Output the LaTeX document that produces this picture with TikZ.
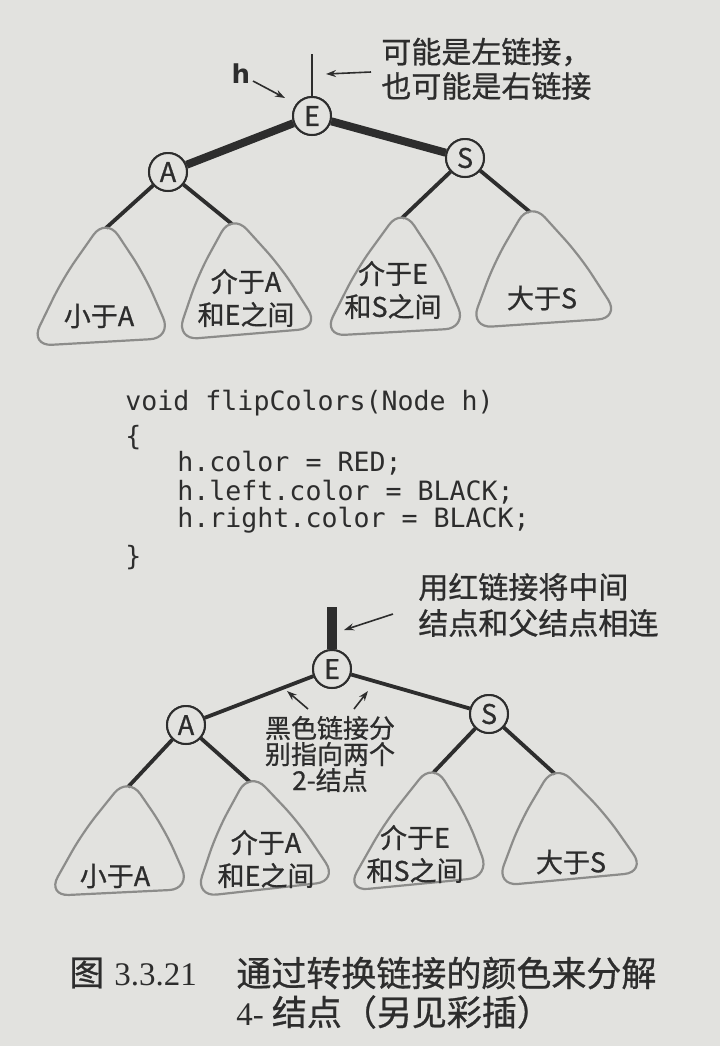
\documentclass[tikz,border=0pt]{standalone}
\usepackage{fontspec}
\usetikzlibrary{arrows.meta,calc}
\newfontfamily\cjk{Noto Sans CJK SC}[FakeBold=0.8]
\newfontfamily\codefont{DejaVu Sans Mono}
\newfontfamily\hfont{DejaVu Sans}
\newfontfamily\serifcap{Liberation Serif}
\definecolor{paper}{RGB}{226,226,223}
\definecolor{ink}{RGB}{45,45,45}
\definecolor{blobgray}{RGB}{140,140,138}
\newcommand\blobshape[3]{\draw[blobline] ($(#2)!0.5!(#3)$) -- (#3)
  -- ($(#1)!0.5!(#3)!3pt!90:(#3)$) -- (#1)
  -- ($(#1)!0.5!(#2)!3pt!-90:(#2)$) -- (#2) -- cycle;}
\begin{document}
\begin{tikzpicture}[x=0.5pt,y=-0.5pt,
  tnode/.style={circle,draw=ink,line width=1pt,fill=paper,minimum size=19pt,inner sep=0pt,font=\cjk\fontsize{13.5}{14}\selectfont,text=ink},
  link/.style={draw=ink,line width=1.9pt},
  redlink/.style={draw=ink,line width=4pt},
  blobline/.style={draw=blobgray,line width=1.1pt,rounded corners=11pt},
  lbl/.style={font=\cjk\fontsize{13.5}{16.5}\selectfont,text=ink,align=center,inner sep=0pt},
  note/.style={font=\cjk\fontsize{15}{17}\selectfont,text=ink,anchor=west,inner sep=0pt},
  ptr/.style={draw=ink,line width=0.8pt,-{Stealth[length=5pt,width=3.5pt]}},
  code/.style={font=\codefont\fontsize{13.3}{16}\selectfont,text=ink,anchor=west,inner sep=0pt}
]
\fill[paper] (0,0) rectangle (720,1046);
\useasboundingbox (0,0) rectangle (720,1046);

% ---------------- top tree ----------------
\node[tnode] (E1) at (312,116) {E};
\node[tnode] (A1) at (168,172) {A};
\node[tnode] (S1) at (465,158) {S};
\coordinate (up1) at (312,54);
\coordinate (t1) at (106,228);
\coordinate (t2) at (232,224);
\coordinate (t3) at (402,218);
\coordinate (t4) at (530,212);

\draw[redlink] (E1) -- (A1);
\draw[redlink] (E1) -- (S1);
\draw[draw=ink,line width=1.3pt] (up1) -- (E1);
\draw[link] (A1) -- (t1);
\draw[link] (A1) -- (t2);
\draw[link] (S1) -- (t3);
\draw[link] (S1) -- (t4);
\node[tnode] at (E1) {E};
\node[tnode] at (A1) {A};
\node[tnode] at (S1) {S};

\blobshape{106,217}{30,346}{172,338}
\blobshape{232,213}{176,340}{320,328}
\blobshape{402,207}{323,336}{467,328}
\blobshape{530,201}{470,328}{620,318}

\node[lbl] (l1) at (99,316) {小于A};
\node[lbl] (l2) at (246,298) {介于A\\和E之间};
\node[lbl] (l3) at (393,290) {介于E\\和S之间};
\node[lbl] (l4) at (542,298) {大于S};

\node[font=\hfont\bfseries\fontsize{13}{14}\selectfont,text=ink,inner sep=0pt] (h) at (241,74) {h};
\coordinate (htip) at (285,98);
\coordinate (hs) at (253,81);
\draw[ptr] (hs) -- (htip);
\node[note] (c1) at (381,52) {可能是左链接，};
\node[note] (c2) at (381,86) {也可能是右链接};
\coordinate (c2tail) at (371,72);
\coordinate (c2tip) at (326,74);
\draw[ptr] (c2tail) -- (c2tip);

% ---------------- code ----------------
\node[code] (k1) at (125,403) {void flipColors(Node h)};
\node[code] (k2) at (125,438) {\{};
\node[code] (k3) at (177,463) {h.color = RED;};
\node[code] (k4) at (177,492) {h.left.color = BLACK;};
\node[code] (k5) at (177,520) {h.right.color = BLACK;};
\node[code] (k6) at (125,558) {\}};

% ---------------- bottom tree ----------------
\node[tnode] (E2) at (332,669) {E};
\node[tnode] (A2) at (186,725) {A};
\node[tnode] (S2) at (489,714) {S};
\coordinate (up2) at (332,607);
\coordinate (t5) at (128,787);
\coordinate (t6) at (250,782);
\coordinate (t7) at (433,773);
\coordinate (t8) at (555,774);

\draw[link] (E2) -- (A2);
\draw[link] (E2) -- (S2);
\draw[draw=ink,line width=5pt] (up2) -- (E2);
\draw[link] (A2) -- (t5);
\draw[link] (A2) -- (t6);
\draw[link] (S2) -- (t7);
\draw[link] (S2) -- (t8);
\node[tnode] at (E2) {E};
\node[tnode] at (A2) {A};
\node[tnode] at (S2) {S};

\blobshape{128,776}{47,896}{191,889}
\blobshape{250,771}{195,897}{338,881}
\blobshape{433,762}{346,891}{490,877}
\blobshape{555,763}{496,886}{646,872}

\node[lbl] (l5) at (115,876) {小于A};
\node[lbl] (l6) at (266,859) {介于A\\和E之间};
\node[lbl] (l7) at (415,854) {介于E\\和S之间};
\node[lbl] (l8) at (571,862) {大于S};

\node[font=\cjk\fontsize{13}{11.8}\selectfont,text=ink,align=center,inner sep=0pt] (mid) at (330,754) {黑色链接分\\别指向两个\\2-结点};
\coordinate (m1) at (308,709);
\coordinate (m1t) at (287,691);
\coordinate (m2) at (354,709);
\coordinate (m2t) at (368,691);
\draw[ptr] (m1) -- (m1t);
\draw[ptr] (m2) -- (m2t);

\node[note] (c3) at (418,587) {用红链接将中间};
\node[note] (c4) at (418,623) {结点和父结点相连};
\coordinate (c4tail) at (393,614);
\coordinate (c4tip) at (344,630);
\draw[ptr] (c4tail) -- (c4tip);

% ---------------- caption ----------------
\node[anchor=west,inner sep=0pt,text=ink] (cap1) at (69,973) {\cjk\fontsize{17.5}{20}\selectfont 图\hspace{5pt}\serifcap\fontsize{16.5}{20}\selectfont 3.3.21};
\node[anchor=west,inner sep=0pt,text=ink,font=\cjk\fontsize{17.5}{20}\selectfont] (cap2) at (236,973) {通过转换链接的颜色来分解};
\node[anchor=west,inner sep=0pt,text=ink] (cap3) at (236,1012) {\serifcap\fontsize{16.5}{20}\selectfont 4-\hspace{4pt}\cjk\fontsize{17.5}{20}\selectfont 结点（另见彩插）};
\end{tikzpicture}
\end{document}
